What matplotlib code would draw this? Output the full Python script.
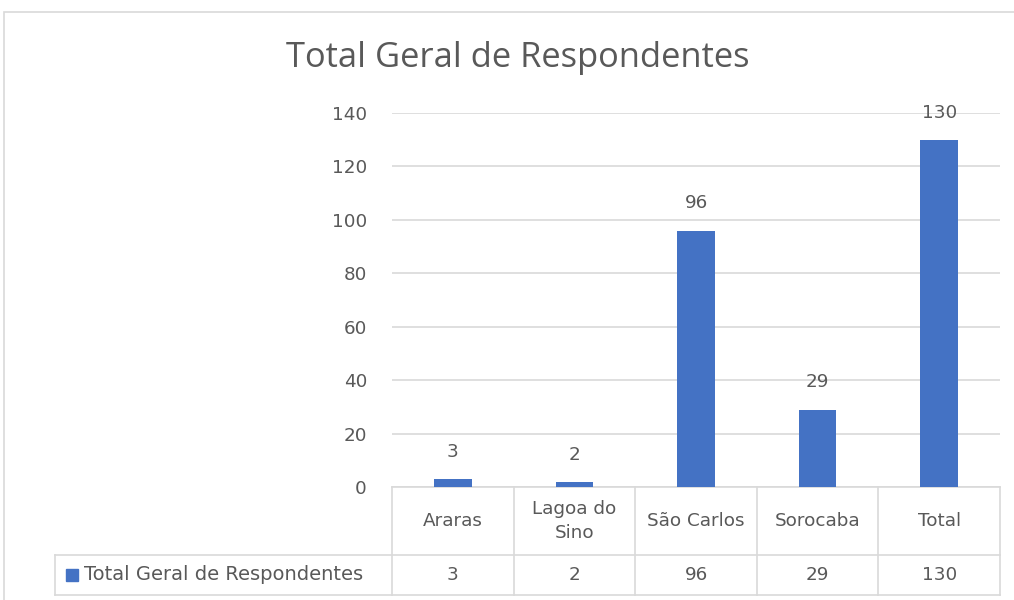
import matplotlib
matplotlib.use("Agg")
import matplotlib.pyplot as plt
from matplotlib.transforms import blended_transform_factory
from matplotlib.patches import Rectangle
from matplotlib.lines import Line2D

categories = ["Araras", "Lagoa do\nSino", "São Carlos", "Sorocaba", "Total"]
values = [3, 2, 96, 29, 130]
series_name = "Total Geral de Respondentes"
title = "Total Geral de Respondentes"
yticks = [0, 20, 40, 60, 80, 100, 120, 140]

W, H = 1014, 600
BAR = "#4472C4"
TXT = "#595959"
GRID = "#D9D9D9"
FS = 13.2

plt.rcParams['font.family'] = ['DejaVu Sans']
fig = plt.figure(figsize=(W / 100, H / 100), dpi=100)

def fx(px):
    return px / W

def fy(py):
    return 1 - py / H

# outer chart frame (only top and left edges visible in the crop)
fig.add_artist(Rectangle((fx(4), fy(620)), fx(1030) - fx(4), fy(12) - fy(620),
                         transform=fig.transFigure, fill=False, edgecolor="#D9D9D9", lw=1.2))

ax_l, ax_r, ax_t, ax_b = 392, 1000, 113, 487
ax = fig.add_axes([fx(ax_l), fy(ax_b), fx(ax_r) - fx(ax_l), fy(ax_t) - fy(ax_b)])
n = len(categories)
xs = list(range(n))
ax.bar(xs, values, width=0.31, color=BAR, zorder=3)
ax.set_xlim(-0.5, n - 0.5)
ax.set_ylim(0, 140)
ax.set_yticks(yticks)
ax.set_yticklabels([str(t) for t in yticks], color=TXT, fontsize=FS)
ax.tick_params(axis='y', length=0, pad=18)
ax.set_xticks([])
for s in ax.spines.values():
    s.set_visible(False)
ax.grid(axis='y', color=GRID, lw=1.2, zorder=0)
ax.set_axisbelow(True)

for x, v in zip(xs, values):
    ax.annotate(str(v), (x, v), xytext=(0, 13), textcoords="offset points",
                ha="center", va="bottom", color=TXT, fontsize=FS)

fig.text(0.511, fy(58), title, ha="center", va="center", color=TXT, fontsize=24.8,
         family=["Open Sans", "DejaVu Sans"])

# data table
axh = ax_b - ax_t
def ay(py):
    return (ax_b - py) / axh

tr = blended_transform_factory(ax.transData, ax.transAxes)
row1_top, row1_bot, row2_bot = ay(487), ay(555), ay(595)
tbl_kw = dict(color=GRID, lw=1.2, clip_on=False)
for i in range(n + 1):
    xv = i - 0.5
    ax.add_line(Line2D([xv, xv], [row1_top, row2_bot], transform=tr, **tbl_kw))
ax.add_line(Line2D([-0.5, n - 0.5], [row1_top, row1_top], transform=tr, **tbl_kw))
trf = blended_transform_factory(fig.transFigure, ax.transAxes)
for yv in (row1_bot, row2_bot):
    ax.add_line(Line2D([fx(55), fx(1000)], [yv, yv], transform=trf, **tbl_kw))
ax.add_line(Line2D([fx(55), fx(55)], [row1_bot, row2_bot], transform=trf, **tbl_kw))

for x, c, v in zip(xs, categories, values):
    ax.text(x, (row1_top + row1_bot) / 2, c, transform=tr, ha="center", va="center",
            color=TXT, fontsize=FS, linespacing=1.45)
    ax.text(x, (row1_bot + row2_bot) / 2, str(v), transform=tr, ha="center", va="center",
            color=TXT, fontsize=FS)

ymid = (row1_bot + row2_bot) / 2
ax.add_patch(Rectangle((fx(66), ymid - 6 / axh), fx(78) - fx(66), 12 / axh,
                       transform=trf, color=BAR, clip_on=False))
ax.text(fx(84), ymid, series_name, transform=trf, ha="left", va="center",
        color=TXT, fontsize=FS + 0.8)

fig.savefig("out.png", dpi=100)
